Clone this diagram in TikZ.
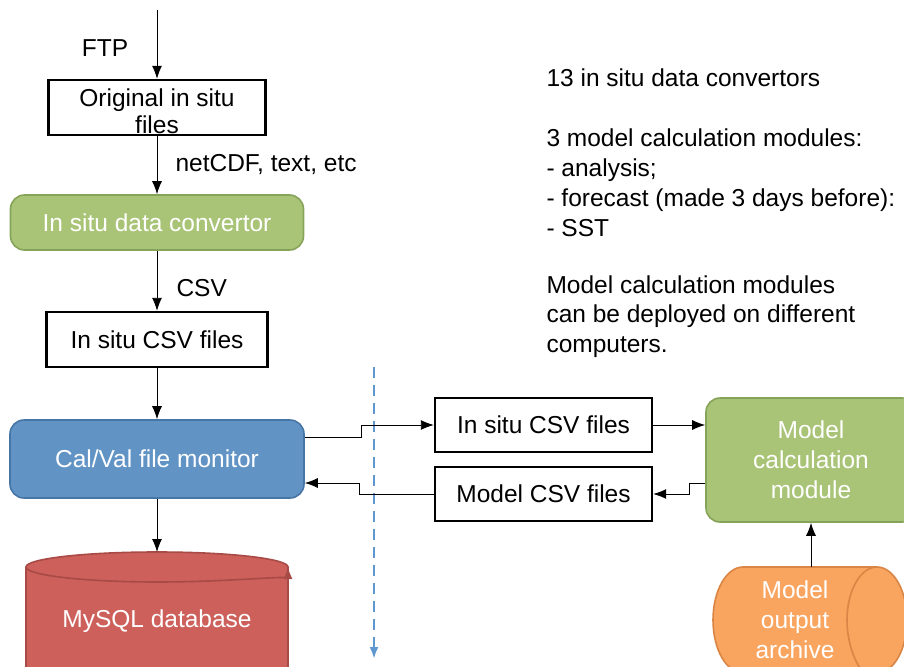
\documentclass[tikz,border=0pt]{standalone}
\usepackage{fontspec}
\setmainfont{Liberation Sans}
\usetikzlibrary{arrows.meta}
\definecolor{convgreen}{HTML}{A9C477}
\definecolor{convedge}{HTML}{86A35A}
\definecolor{monblue}{HTML}{6194C5}
\definecolor{monedge}{HTML}{4775A5}
\definecolor{dbred}{HTML}{CD605B}
\definecolor{dbedge}{HTML}{A84A45}
\definecolor{archorange}{HTML}{F9A560}
\definecolor{archedge}{HTML}{D98545}
\definecolor{sepblue}{HTML}{5F97D0}
\newcommand{\diagfont}{\fontsize{24.5}{30}\selectfont}
\tikzset{
  filebox/.style={draw=black,line width=2.4pt,fill=white,minimum height=55pt,inner sep=0pt,align=center},
  procbox/.style={rounded corners=14pt,line width=1.6pt,text=white,inner sep=0pt,align=center},
  link/.style={-{Latex[length=13pt,width=10pt]},line width=0.9pt},
}
\begin{document}
\begin{tikzpicture}[x=1pt,y=-1pt,font=\diagfont]
\path[use as bounding box] (0,0) rectangle (904,666);
\clip (0,0) rectangle (904,666);
% left column
\coordinate (ftpin) at (157,10);
\node (ftp) at (105,48) {FTP};
\node[filebox,minimum width=217pt] (orig) at (157,107.5) {};
\node[align=center,inner sep=0pt,font=\fontsize{24.5}{27}\selectfont] (origtext) at (157,111) {Original in situ\\files};
\node[anchor=west] (fmt) at (172,165) {netCDF, text, etc};
\node[procbox,fill=convgreen,draw=convedge,minimum width=293pt,minimum height=55pt] (conv) at (157,222.5) {In situ data convertor};
\node[anchor=west] (csvlbl) at (173,288) {CSV};
\node[filebox,minimum width=221pt] (csvleft) at (157,339.5) {In situ CSV files};
\node[procbox,fill=monblue,draw=monedge,minimum width=294pt,minimum height=78pt] (monitor) at (157,459) {Cal/Val file monitor};
% database
\fill[dbred,draw=dbedge,line width=1.6pt] (26,567) arc[start angle=180,end angle=0,x radius=131pt,y radius=15pt] -- (288,700) -- (26,700) -- cycle;
\draw[dbedge,line width=1.6pt,-{Latex[length=12pt,width=9pt]}] (26,567) arc[start angle=180,end angle=360,x radius=131pt,y radius=15pt];
\coordinate (mysqltop) at (157,552);
\node[text=white] (mysql) at (157,621) {MySQL database};
\draw[link] (ftpin) -- (orig);
\draw[link] (orig) -- (conv);
\draw[link] (conv) -- (csvleft);
\draw[link] (csvleft) -- (monitor);
\draw[link] (monitor) -- (mysqltop);
% separator
\coordinate (septop) at (374,367);
\coordinate (sepbot) at (374,659);
\draw[sepblue,line width=2.6pt,dash pattern=on 11pt off 7pt,-{Latex[length=12pt,width=9pt]}] (septop) -- (sepbot);
% right side
\node[filebox,minimum width=217pt,minimum height=54pt] (csvright) at (543.5,425) {In situ CSV files};
\node[filebox,minimum width=217pt,minimum height=54pt] (modcsv) at (543.5,494) {Model CSV files};
\node[procbox,fill=convgreen,draw=convedge,minimum width=210pt,minimum height=124pt] (model) at (811,460) {Model\\calculation\\module};
\draw[link] ([yshift=22pt]monitor.east) -- ++(57,0) |- (csvright.west);
\draw[link] (csvright.east) -- (csvright.east -| model.west);
\draw[link] ([yshift=-23pt]model.west) -- ++(-16,0) |- (modcsv.east);
\draw[link] (modcsv.west) -- ++(-74,0) |- ([yshift=-24pt]monitor.east);
% archive
\fill[archorange,draw=archedge,line width=1.6pt] (743,567) -- (877,567) arc[start angle=90,end angle=-90,x radius=30pt,y radius=53pt] -- (743,673) arc[start angle=270,end angle=90,x radius=30pt,y radius=53pt] -- cycle;
\draw[archedge,line width=1.6pt,-{Latex[length=12pt,width=9pt]}] (877,567) arc[start angle=90,end angle=270,x radius=30pt,y radius=53pt];
\coordinate (archtop) at (811,567);
\node[text=white,align=center] (archive) at (795,620) {Model\\output\\archive};
\draw[link] (archtop) -- (model);
% notes
\node[anchor=west] (counts) at (543,78) {13 in situ data convertors};
\node[anchor=west,align=left] (modules) at (543,183) {3 model calculation modules:\\- analysis;\\- forecast (made 3 days before):\\- SST};
\node[anchor=west,align=left,font=\fontsize{24.5}{29.5}\selectfont] (deploy) at (543,316.5) {Model calculation modules\\can be deployed on different\\computers.};
\end{tikzpicture}
\end{document}
